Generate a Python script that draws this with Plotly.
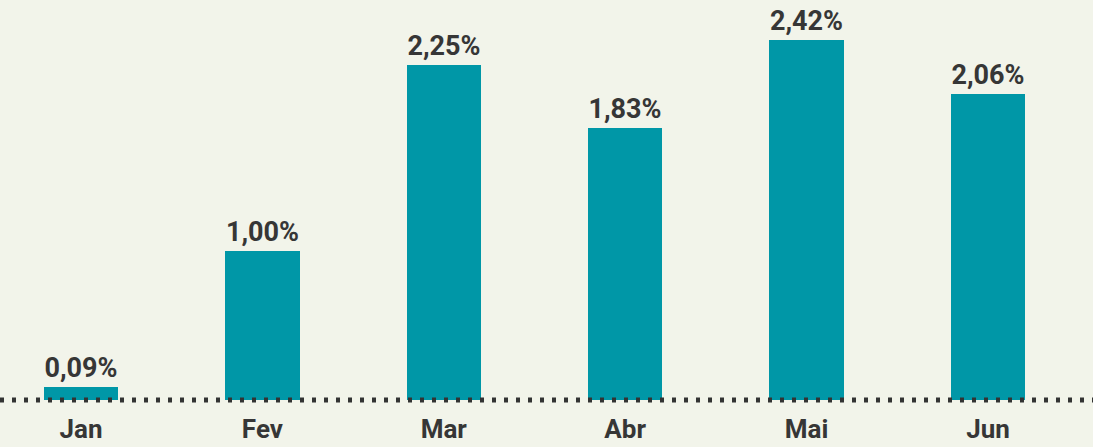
import plotly.graph_objects as go

months = ["Jan", "Fev", "Mar", "Abr", "Mai", "Jun"]
values = [0.09, 1.00, 2.25, 1.83, 2.42, 2.06]
labels = ["0,09%", "1,00%", "2,25%", "1,83%", "2,42%", "2,06%"]

BG = "#f2f4ea"
BAR = "#0097a7"
TXT = "#363636"
FONT = "Roboto, 'Liberation Sans', sans-serif"

fig = go.Figure(go.Bar(
    x=list(range(len(months))),
    y=values,
    text=labels,
    textposition="outside",
    cliponaxis=False,
    marker=dict(color=BAR, line=dict(width=0)),
    width=0.41,
    textfont=dict(family=FONT, size=27, color=TXT, weight="bold"),
    hoverinfo="skip",
))

fig.add_shape(type="line", xref="paper", yref="y", x0=0, x1=1, y0=0, y1=0,
              line=dict(color="#333333", width=5, dash="4px,8px"), layer="above")

k = 148.7  # px per unit
fig.update_layout(
    width=1093, height=447,
    margin=dict(l=0, r=0, t=0, b=37, autoexpand=False),
    paper_bgcolor=BG, plot_bgcolor=BG,
    showlegend=False,
    bargap=0,
    xaxis=dict(
        range=[-0.4465, 5.579],
        tickmode="array",
        tickvals=list(range(len(months))),
        ticktext=months,
        showgrid=False, zeroline=False, showline=False,
        ticks="", ticklabelstandoff=1,
        tickfont=dict(family=FONT, size=26, color=TXT, weight="bold"),
        automargin=False,
    ),
    yaxis=dict(
        range=[-10 / k, 400 / k],
        visible=False,
        showgrid=False, zeroline=False,
    ),
)

fig.write_html(
    "out.html",
    config={"displayModeBar": False},
    post_script="document.body.style.margin='0';document.body.style.padding='0';document.body.style.background='#f2f4ea';",
)
